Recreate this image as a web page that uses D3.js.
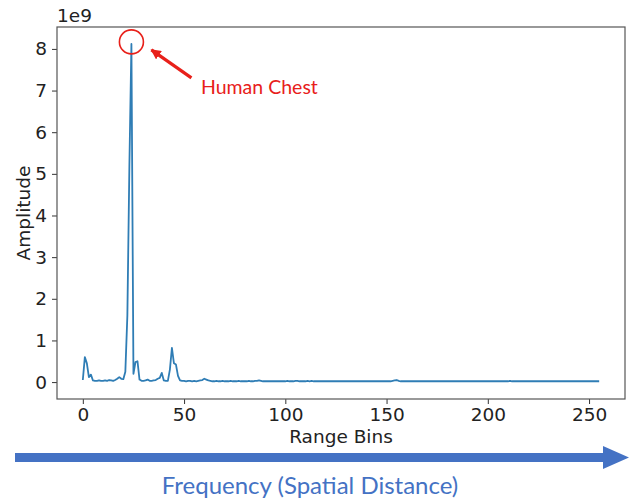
<!DOCTYPE html>
<html>
<head>
<meta charset="utf-8">
<script src="https://cdn.jsdelivr.net/npm/d3@7"></script>
<style>
  html, body { margin: 0; padding: 0; background: #fff; }
  svg { display: block; }
</style>
</head>
<body>
<svg id="chart" width="644" height="500"></svg>
<script>
// Amplitude per range bin, in units of 1e9
const amplitude = [
  0.05, 0.60, 0.45, 0.12, 0.18, 0.04, 0.03, 0.03, 0.04, 0.03,
  0.03, 0.04, 0.03, 0.05, 0.04, 0.03, 0.05, 0.08, 0.12, 0.08,
  0.07, 0.25, 1.60, 5.20, 8.12, 0.20, 0.48, 0.50, 0.06, 0.03,
  0.03, 0.04, 0.06, 0.03, 0.03, 0.04, 0.05, 0.08, 0.10, 0.22,
  0.04, 0.03, 0.03, 0.30, 0.82, 0.45, 0.42, 0.15, 0.04, 0.03,
  0.03, 0.02, 0.03, 0.03, 0.02, 0.03, 0.02, 0.03, 0.04, 0.05,
  0.08, 0.06, 0.04, 0.03, 0.02, 0.02, 0.03, 0.02, 0.02, 0.03,
  0.02, 0.02, 0.02, 0.03, 0.02, 0.02, 0.02, 0.03, 0.02, 0.02,
  0.02, 0.02, 0.03, 0.02, 0.02, 0.03, 0.03, 0.04, 0.03, 0.02,
  0.02, 0.02, 0.02, 0.02, 0.02, 0.02, 0.02, 0.02, 0.02, 0.02,
  0.02, 0.03, 0.02, 0.02, 0.02, 0.03, 0.03, 0.02, 0.02, 0.02,
  0.02, 0.03, 0.02, 0.03, 0.02, 0.02, 0.02, 0.02, 0.02, 0.02,
  0.02, 0.02, 0.02, 0.02, 0.02, 0.02, 0.02, 0.02, 0.02, 0.02,
  0.02, 0.02, 0.02, 0.02, 0.02, 0.02, 0.02, 0.02, 0.02, 0.02,
  0.02, 0.02, 0.02, 0.02, 0.02, 0.02, 0.02, 0.02, 0.02, 0.02,
  0.02, 0.02, 0.02, 0.03, 0.04, 0.05, 0.03, 0.02, 0.02, 0.02,
  0.02, 0.02, 0.02, 0.02, 0.02, 0.02, 0.02, 0.02, 0.02, 0.02,
  0.02, 0.02, 0.02, 0.02, 0.02, 0.02, 0.02, 0.02, 0.02, 0.02,
  0.02, 0.02, 0.02, 0.02, 0.02, 0.02, 0.02, 0.02, 0.02, 0.02,
  0.02, 0.02, 0.02, 0.02, 0.02, 0.02, 0.02, 0.02, 0.02, 0.02,
  0.02, 0.02, 0.02, 0.02, 0.02, 0.02, 0.02, 0.02, 0.02, 0.02,
  0.02, 0.03, 0.02, 0.02, 0.02, 0.02, 0.02, 0.02, 0.02, 0.02,
  0.02, 0.02, 0.02, 0.02, 0.02, 0.02, 0.02, 0.02, 0.02, 0.02,
  0.02, 0.02, 0.02, 0.02, 0.02, 0.02, 0.02, 0.02, 0.02, 0.02,
  0.02, 0.02, 0.02, 0.02, 0.02, 0.02, 0.02, 0.02, 0.02, 0.02,
  0.02, 0.02, 0.02, 0.02, 0.02, 0.02
];
const xTicks = [0, 50, 100, 150, 200, 250];
const yTicks = [0, 1, 2, 3, 4, 5, 6, 7, 8];
const xLabel = "Range Bins";
const yLabel = "Amplitude";
const offsetLabel = "1e9";
const peakLabel = "Human Chest";
const bottomLabel = "Frequency (Spatial Distance)";

const svg = d3.select("#chart");
const plot = { left: 57, right: 625, top: 27, bottom: 399 };
const n = amplitude.length;
const xPad = (n - 1) * 0.05;
const yMax = d3.max(amplitude), yMin = 0;
const yPad = (yMax - yMin) * 0.05;

const x = d3.scaleLinear().domain([-xPad, n - 1 + xPad]).range([plot.left, plot.right]);
const y = d3.scaleLinear().domain([yMin - yPad, yMax + yPad]).range([plot.bottom, plot.top]);

const tickFont = "'DejaVu Sans', sans-serif";

// Axes
const xAxis = svg.append("g")
  .attr("transform", `translate(0,${plot.bottom})`)
  .call(d3.axisBottom(x).tickValues(xTicks).tickSize(5).tickPadding(4).tickSizeOuter(0));
const yAxis = svg.append("g")
  .attr("transform", `translate(${plot.left},0)`)
  .call(d3.axisLeft(y).tickValues(yTicks).tickSize(5).tickPadding(5).tickSizeOuter(0));
[xAxis, yAxis].forEach(a => {
  a.select(".domain").remove();
  a.selectAll("line").attr("stroke", "#333").attr("stroke-width", 1);
  a.selectAll("text").attr("font-family", tickFont).attr("font-size", 18.5).attr("fill", "#222");
});

// Frame
svg.append("rect")
  .attr("x", plot.left).attr("y", plot.top)
  .attr("width", plot.right - plot.left).attr("height", plot.bottom - plot.top)
  .attr("fill", "none").attr("stroke", "#555").attr("stroke-width", 1.2);

// Line
const line = d3.line().x((d, i) => x(i)).y(d => y(d));
svg.append("path")
  .datum(amplitude)
  .attr("d", line)
  .attr("fill", "none")
  .attr("stroke", "#2f7db5")
  .attr("stroke-width", 1.8)
  .attr("stroke-linejoin", "round");

// Labels
svg.append("text")
  .attr("x", plot.left).attr("y", 22)
  .attr("font-family", tickFont).attr("font-size", 18.5).attr("fill", "#222")
  .text(offsetLabel);
svg.append("text")
  .attr("x", (plot.left + plot.right) / 2).attr("y", 443)
  .attr("text-anchor", "middle")
  .attr("font-family", tickFont).attr("font-size", 18.5).attr("fill", "#222")
  .text(xLabel);
svg.append("text")
  .attr("transform", `translate(30,${(plot.top + plot.bottom) / 2}) rotate(-90)`)
  .attr("text-anchor", "middle")
  .attr("font-family", tickFont).attr("font-size", 18.5).attr("fill", "#222")
  .text(yLabel);

// Peak annotation
const peakIdx = amplitude.indexOf(yMax);
const cx = x(peakIdx), cy = y(yMax) - 2;
svg.append("circle")
  .attr("cx", cx).attr("cy", cy).attr("r", 12)
  .attr("fill", "none").attr("stroke", "#e8201a").attr("stroke-width", 1.6);
const defs = svg.append("defs");
defs.append("marker")
  .attr("id", "redhead").attr("viewBox", "0 0 10 10")
  .attr("refX", 9).attr("refY", 5)
  .attr("markerWidth", 3.2).attr("markerHeight", 3.2)
  .attr("orient", "auto")
  .append("path").attr("d", "M0,0 L10,5 L0,10 Z").attr("fill", "#e8201a");
svg.append("line")
  .attr("x1", cx + 60).attr("y1", cy + 36)
  .attr("x2", cx + 20).attr("y2", cy + 8)
  .attr("stroke", "#e8201a").attr("stroke-width", 3.2)
  .attr("marker-end", "url(#redhead)");
svg.append("text")
  .attr("x", 201).attr("y", 94)
  .attr("font-family", "Lato, 'Open Sans', sans-serif").attr("font-size", 19.5)
  .attr("fill", "#e8201a")
  .text(peakLabel);

// Bottom arrow
svg.append("path")
  .attr("d", "M15,453 L603,453 L603,446 L629,457.5 L603,469 L603,462 L15,462 Z")
  .attr("fill", "#4472c4");
svg.append("text")
  .attr("x", 310).attr("y", 494)
  .attr("text-anchor", "middle")
  .attr("font-family", "Lato, 'Open Sans', sans-serif").attr("font-size", 24)
  .attr("fill", "#4472c4")
  .text(bottomLabel);
</script>
</body>
</html>
